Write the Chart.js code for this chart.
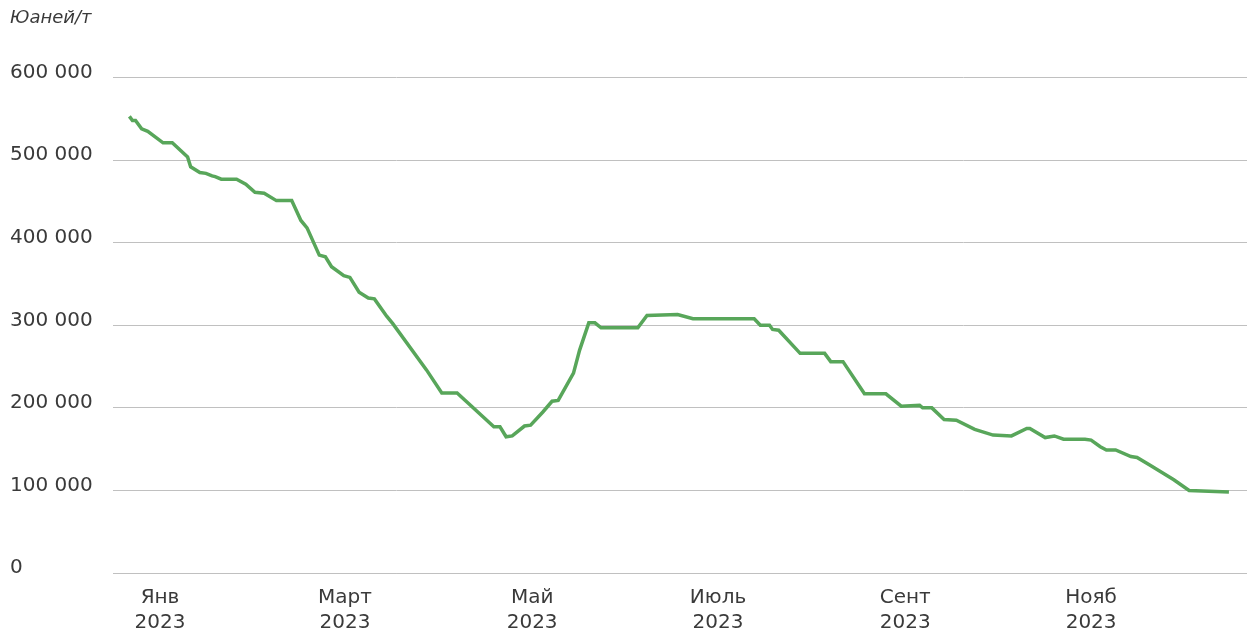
<!DOCTYPE html>
<html>
<head>
<meta charset="utf-8">
<script src="https://cdn.jsdelivr.net/npm/chart.js@4"></script>
<style>
  html, body { margin: 0; padding: 0; background: #fff; }
  canvas { display: block; }
</style>
</head>
<body>
<canvas id="grafico" width="1247" height="633"></canvas>
<script>
// day of year (2023) and price, yuan per tonne
const dias = [4, 5, 6, 8, 10, 15, 18, 23, 24, 27, 29, 31, 32, 34, 39, 42, 45, 48, 52, 57,
  60, 62, 66, 68, 70, 74, 76, 79, 82, 84, 88, 90, 101, 106, 111, 123, 125, 127, 129, 133,
  135, 139, 142, 144, 149, 151, 154, 156, 158, 170, 173, 183, 188, 208, 210, 213, 214, 216, 223, 231,
  233, 237, 244, 251, 256, 262, 263, 266, 270, 274, 280, 286, 292, 297, 298, 303, 306, 309, 316, 318,
  321, 323, 326, 331, 333, 337, 345, 350, 363];
const precos = [553000, 548000, 548000, 538000, 535000, 521000, 521000, 504000, 492000, 485000,
  484000, 481000, 480000, 477000, 477000, 471000, 461000, 460000, 451000, 451000,
  427000, 418000, 385000, 383000, 371000, 360000, 358000, 340000, 333000, 332000,
  311000, 302000, 246000, 218000, 218000, 177000, 177000, 165000, 166000, 178000,
  179000, 195000, 208000, 209000, 242000, 270000, 303000, 303000, 297000, 297000,
  312000, 313000, 308000, 308000, 300000, 300000, 295000, 294000, 266000, 266000,
  256000, 256000, 217000, 217000, 202000, 203000, 200000, 200000, 186000, 185000,
  174000, 167000, 166000, 175000, 175000, 164000, 166000, 162000, 162000, 161000,
  153000, 149000, 149000, 141000, 140000, 131000, 113000, 100000, 98000];

// x axis labels, placed mid-month
const marcasDias = [14, 74.4, 135.5, 196.2, 257.3, 318];
const marcasTexto = [['Янв', '2023'], ['Март', '2023'], ['Май', '2023'],
  ['Июль', '2023'], ['Сент', '2023'], ['Нояб', '2023']];

const pontos = dias.map((d, i) => ({ x: d, y: precos[i] }));
const corTexto = '#3a3a3a';
const fonte = 'DejaVu Sans';

new Chart(document.getElementById('grafico').getContext('2d'), {
  type: 'line',
  data: {
    datasets: [{
      data: pontos,
      borderColor: '#58a65a',
      borderWidth: 3.5,
      pointRadius: 0,
      tension: 0,
      fill: false
    }]
  },
  options: {
    responsive: false,
    animation: false,
    devicePixelRatio: 1,
    layout: { padding: { left: 10, right: 0, top: 0, bottom: 0 } },
    plugins: {
      legend: { display: false },
      tooltip: { enabled: false },
      title: {
        display: true,
        text: 'Юаней/т',
        align: 'start',
        color: corTexto,
        font: { family: fonte, size: 18, style: 'italic', weight: 'normal' },
        padding: { top: 8, bottom: 48 }
      }
    },
    scales: {
      x: {
        type: 'linear',
        min: -1.35,
        max: 368.9,
        grid: { display: false, drawTicks: false },
        border: { display: true, color: '#c0c0c0', width: 1 },
        afterBuildTicks: function (scale) {
          scale.ticks = marcasDias.map(v => ({ value: v }));
        },
        afterFit: function (scale) { scale.height = 60; },
        ticks: {
          autoSkip: false,
          maxRotation: 0,
          padding: 12,
          color: corTexto,
          font: { family: fonte, size: 20, lineHeight: 1.25 },
          callback: function (value, index) { return marcasTexto[index]; }
        }
      },
      y: {
        min: 0,
        max: 600000,
        grid: { color: '#c0c0c0', lineWidth: 1, drawTicks: false },
        border: { display: false },
        afterFit: function (scale) { scale.width = 103; },
        ticks: {
          stepSize: 100000,
          crossAlign: 'far',
          labelOffset: -5,
          padding: 0,
          color: corTexto,
          font: { family: fonte, size: 20 },
          callback: function (value) {
            return value === 0 ? '0' : (value / 1000) + ' 000';
          }
        }
      }
    }
  }
});
</script>
</body>
</html>
